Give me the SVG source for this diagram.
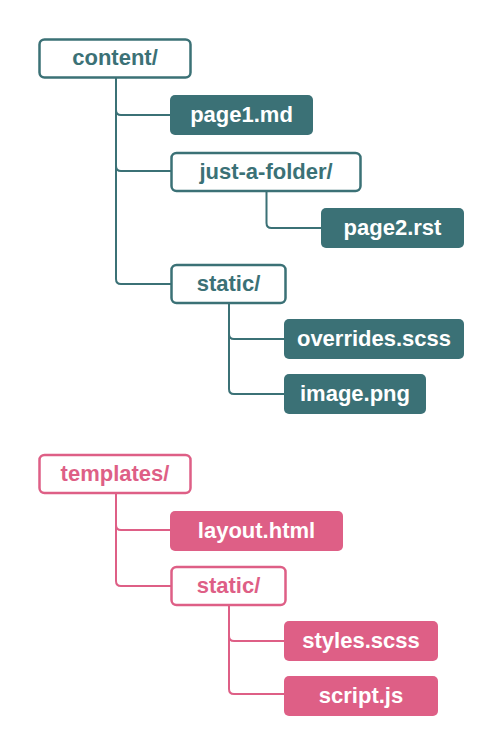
<svg xmlns="http://www.w3.org/2000/svg" width="503" height="755" viewBox="0 0 503 755">
<style>
text{font-family:"Liberation Sans",Arial,sans-serif;font-weight:bold;font-size:22px;text-anchor:middle;dominant-baseline:central}
.tf{fill:#ffffff;stroke:#3b7176;stroke-width:2.5}
.tb{fill:#3b7176}
.tt{fill:#3b7176}
.pf{fill:#ffffff;stroke:#de5f86;stroke-width:2.5}
.pb{fill:#de5f86}
.pt{fill:#de5f86}
.w{fill:#ffffff}
.ct{fill:none;stroke:#3b7176;stroke-width:2}
.cp{fill:none;stroke:#de5f86;stroke-width:2}
</style>
<rect width="503" height="755" fill="#ffffff"/>
<g id="connectors">
<path class="ct" d="M116 77 V110 Q116 115 121 115 H170"/>
<path class="ct" d="M116 110 V166 Q116 171 121 171 H171"/>
<path class="ct" d="M116 166 V279 Q116 284 121 284 H171"/>
<path class="ct" d="M266.5 191 V223 Q266.5 228 271.5 228 H321"/>
<path class="ct" d="M229 303 V334 Q229 339 234 339 H284"/>
<path class="ct" d="M229 334 V389 Q229 394 234 394 H284"/>
<path class="cp" d="M116 493 V525 Q116 530 121 530 H170"/>
<path class="cp" d="M116 525 V581 Q116 586 121 586 H171"/>
<path class="cp" d="M229 605 V636 Q229 641 234 641 H284"/>
<path class="cp" d="M229 636 V689 Q229 694 234 694 H284"/>
</g>
<g id="content"><rect class="tf" x="39.5" y="39.5" width="151" height="38" rx="5"/><text class="tt" x="115" y="57">content/</text></g>
<g id="page1"><rect class="tb" x="170" y="95" width="143" height="40" rx="5"/><text class="w" x="241.5" y="114">page1.md</text></g>
<g id="just-a-folder"><rect class="tf" x="171.5" y="153" width="189" height="38" rx="5"/><text class="tt" x="266" y="171">just-a-folder/</text></g>
<g id="page2"><rect class="tb" x="321" y="208" width="143" height="40" rx="5"/><text class="w" x="392.5" y="227">page2.rst</text></g>
<g id="static1"><rect class="tf" x="171.5" y="265" width="114" height="38" rx="5"/><text class="tt" x="228.5" y="283">static/</text></g>
<g id="overrides"><rect class="tb" x="284" y="319" width="180" height="40" rx="5"/><text class="w" x="374" y="338">overrides.scss</text></g>
<g id="image"><rect class="tb" x="284" y="374" width="142" height="40" rx="5"/><text class="w" x="355" y="393">image.png</text></g>
<g id="templates"><rect class="pf" x="39.5" y="455" width="151" height="38" rx="5"/><text class="pt" x="115" y="473">templates/</text></g>
<g id="layout"><rect class="pb" x="170" y="511" width="173" height="40" rx="5"/><text class="w" x="256.5" y="530">layout.html</text></g>
<g id="static2"><rect class="pf" x="171.5" y="567" width="114" height="38" rx="5"/><text class="pt" x="228.5" y="585">static/</text></g>
<g id="styles"><rect class="pb" x="284" y="621" width="154" height="40" rx="5"/><text class="w" x="361" y="640">styles.scss</text></g>
<g id="script"><rect class="pb" x="284" y="676" width="154" height="40" rx="5"/><text class="w" x="361" y="695">script.js</text></g>
</svg>
